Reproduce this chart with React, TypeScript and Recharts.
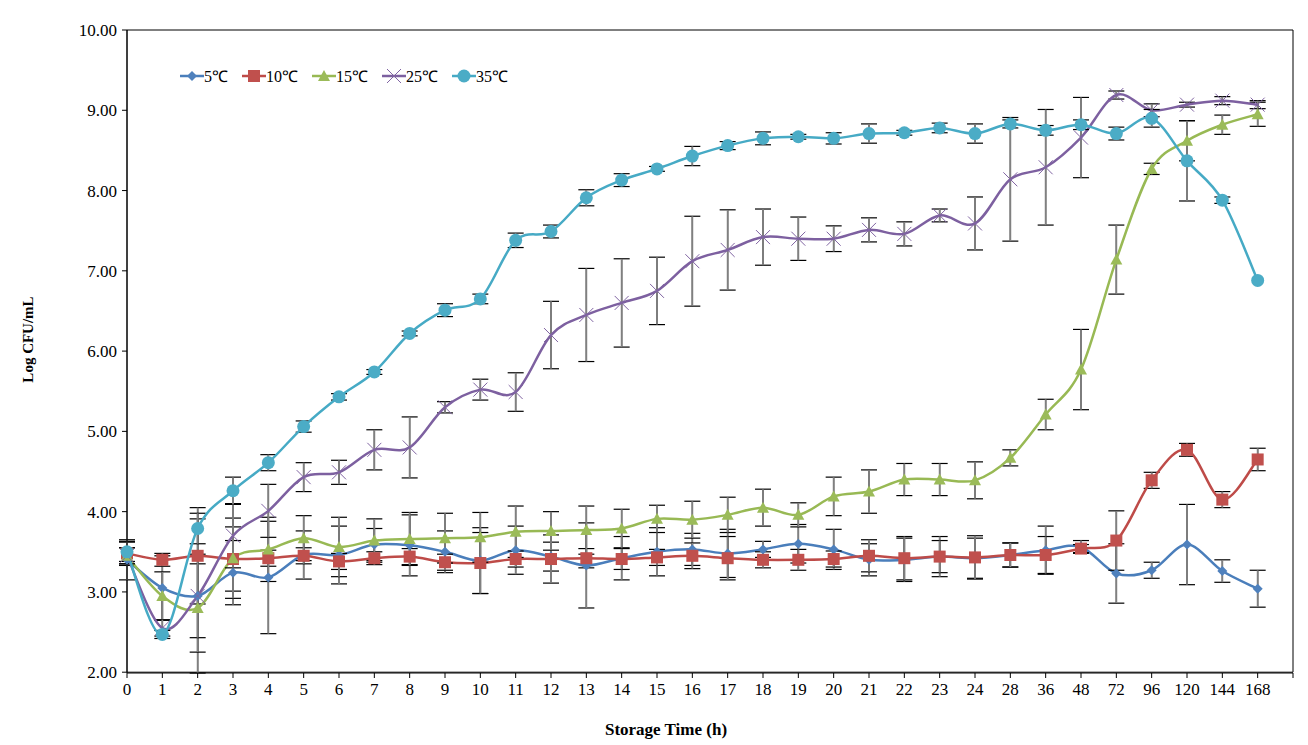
import { LineChart, Line, XAxis, YAxis, ErrorBar, ReferenceArea } from 'recharts';

const hours = ['0', '1', '2', '3', '4', '5', '6', '7', '8', '9', '10', '11', '12', '13', '14', '15', '16', '17', '18', '19', '20', '21', '22', '23', '24', '28', '36', '48', '72', '96', '120', '144', '168'];

const t5 = [3.40, 3.05, 2.95, 3.24, 3.18, 3.46, 3.46, 3.59, 3.58, 3.50, 3.39, 3.52, 3.44, 3.33, 3.42, 3.50, 3.53, 3.48, 3.53, 3.60, 3.53, 3.40, 3.40, 3.44, 3.42, 3.46, 3.52, 3.56, 3.23, 3.27, 3.59, 3.26, 3.04];
const e5 = [0.25, 0.40, 0.96, 0.40, 0.70, 0.30, 0.36, 0.20, 0.38, 0.26, 0.41, 0.30, 0.18, 0.53, 0.27, 0.30, 0.20, 0.30, 0.10, 0.24, 0.25, 0.20, 0.27, 0.25, 0.25, 0.15, 0.30, 0.08, 0.37, 0.10, 0.50, 0.14, 0.23];

const t10 = [3.48, 3.40, 3.45, 3.41, 3.42, 3.45, 3.38, 3.42, 3.44, 3.37, 3.36, 3.41, 3.41, 3.42, 3.41, 3.43, 3.45, 3.42, 3.40, 3.40, 3.41, 3.45, 3.42, 3.44, 3.43, 3.46, 3.46, 3.54, 3.64, 4.39, 4.77, 4.15, 4.65];
const e10 = [0.15, 0.08, 0.60, 0.40, 0.10, 0.10, 0.10, 0.08, 0.10, 0.10, 0.38, 0.10, 0.30, 0.12, 0.13, 0.10, 0.16, 0.27, 0.10, 0.13, 0.10, 0.20, 0.27, 0.20, 0.27, 0.15, 0.23, 0.05, 0.37, 0.10, 0.08, 0.10, 0.14];

const t15 = [3.45, 2.95, 2.80, 3.42, 3.53, 3.67, 3.56, 3.64, 3.66, 3.67, 3.68, 3.75, 3.76, 3.77, 3.79, 3.91, 3.90, 3.96, 4.05, 3.96, 4.19, 4.25, 4.40, 4.40, 4.39, 4.67, 5.21, 5.77, 7.14, 8.27, 8.62, 8.82, 8.95];
const e15 = [0.10, 0.30, 0.55, 0.50, 0.40, 0.28, 0.37, 0.27, 0.33, 0.31, 0.31, 0.32, 0.24, 0.30, 0.24, 0.17, 0.23, 0.22, 0.23, 0.15, 0.24, 0.27, 0.20, 0.20, 0.23, 0.10, 0.19, 0.50, 0.43, 0.07, 0.25, 0.12, 0.15];

const t25 = [3.45, 2.55, 2.95, 3.70, 4.01, 4.43, 4.49, 4.77, 4.80, 5.30, 5.52, 5.49, 6.20, 6.45, 6.60, 6.75, 7.12, 7.26, 7.42, 7.40, 7.40, 7.51, 7.46, 7.69, 7.59, 8.14, 8.29, 8.66, 9.19, 9.00, 9.07, 9.12, 9.07];
const e25 = [0.10, 0.10, 0.52, 0.40, 0.33, 0.18, 0.15, 0.25, 0.38, 0.07, 0.13, 0.24, 0.42, 0.58, 0.55, 0.42, 0.56, 0.50, 0.35, 0.27, 0.16, 0.15, 0.15, 0.08, 0.33, 0.77, 0.72, 0.50, 0.05, 0.08, 0.03, 0.05, 0.05];

const t35 = [3.50, 2.47, 3.79, 4.26, 4.61, 5.06, 5.43, 5.74, 6.22, 6.51, 6.65, 7.38, 7.49, 7.91, 8.13, 8.27, 8.43, 8.56, 8.65, 8.67, 8.65, 8.71, 8.72, 8.78, 8.71, 8.83, 8.75, 8.82, 8.71, 8.90, 8.37, 7.88, 6.88];
const e35 = [0.12, 0.05, 0.19, 0.17, 0.10, 0.07, 0.04, 0.03, 0.03, 0.08, 0.06, 0.09, 0.08, 0.10, 0.08, 0.03, 0.12, 0.05, 0.08, 0.03, 0.07, 0.12, 0.03, 0.06, 0.12, 0.05, 0.06, 0.06, 0.08, 0.11, 0.50, 0.04, 0];

const yTicks = [2, 3, 4, 5, 6, 7, 8, 9, 10];
const xTicks = hours.map((_, i) => i).concat([hours.length]);

const font = '"Liberation Serif", "Times New Roman", serif';

const data = hours.map((h, i) => ({
  i, h,
  t5: t5[i], e5: e5[i],
  t10: t10[i], e10: e10[i],
  t15: t15[i], e15: e15[i],
  t25: t25[i], e25: e25[i],
  t35: t35[i], e35: e35[i],
}));

// Excel style smoothing (Catmull-Rom through the points)
const excelSmooth = (context: any) => {
  let pts: number[][] = [];
  return {
    areaStart() {},
    areaEnd() {},
    lineStart() { pts = []; },
    point(x: number, y: number) { pts.push([x, y]); },
    lineEnd() {
      if (!pts.length) return;
      context.moveTo(pts[0][0], pts[0][1]);
      for (let k = 0; k < pts.length - 1; k++) {
        const p0 = pts[k - 1] || pts[k];
        const p1 = pts[k];
        const p2 = pts[k + 1];
        const p3 = pts[k + 2] || p2;
        context.bezierCurveTo(
          p1[0] + (p2[0] - p0[0]) / 6, p1[1] + (p2[1] - p0[1]) / 6,
          p2[0] - (p3[0] - p1[0]) / 6, p2[1] - (p3[1] - p1[1]) / 6,
          p2[0], p2[1]
        );
      }
    },
  };
};

const Marker = ({ kind, cx, cy, color }: { kind: string; cx: number; cy: number; color: string }) => {
  if (kind === 'diamond') {
    const r = 5;
    return <polygon points={`${cx},${cy - r} ${cx + r},${cy} ${cx},${cy + r} ${cx - r},${cy}`} fill={color} />;
  }
  if (kind === 'square') {
    return <rect x={cx - 6} y={cy - 6} width={12} height={12} fill={color} />;
  }
  if (kind === 'triangle') {
    return <polygon points={`${cx},${cy - 6} ${cx + 6},${cy + 5} ${cx - 6},${cy + 5}`} fill={color} />;
  }
  if (kind === 'x') {
    const r = 7;
    return (
      <g stroke={color} strokeWidth={1}>
        <line x1={cx - r} y1={cy - r} x2={cx + r} y2={cy + r} />
        <line x1={cx - r} y1={cy + r} x2={cx + r} y2={cy - r} />
      </g>
    );
  }
  return <circle cx={cx} cy={cy} r={6.5} fill={color} />;
};

const series = [
  { key: 't5', err: 'e5', name: '5℃', line: '#4A7EBB', mark: '#4F81BD', kind: 'diamond' },
  { key: 't10', err: 'e10', name: '10℃', line: '#BE4B48', mark: '#C0504D', kind: 'square' },
  { key: 't15', err: 'e15', name: '15℃', line: '#98B954', mark: '#9BBB59', kind: 'triangle' },
  { key: 't25', err: 'e25', name: '25℃', line: '#7D60A0', mark: '#8064A2', kind: 'x' },
  { key: 't35', err: 'e35', name: '35℃', line: '#46AAC5', mark: '#4BACC6', kind: 'circle' },
];

export default function App() {
  return (
    <div style={{ position: 'relative', width: 1300, height: 737, fontFamily: font }}>
      <LineChart width={1300} height={737} data={data} margin={{ top: 22, right: 15, bottom: 10, left: 0 }}>
        <XAxis
          type="number"
          dataKey="i"
          domain={[0, hours.length]}
          ticks={xTicks}
          interval={0}
          tickFormatter={(v: number) => hours[v] ?? ''}
          axisLine={{ stroke: '#000' }}
          tickLine={{ stroke: '#000' }}
          tickSize={5}
          tickMargin={5}
          height={62}
          tick={{ fill: '#000', fontSize: 17, fontFamily: font }}
          label={{ value: 'Storage Time (h)', position: 'insideBottom', offset: 0, dx: -44, fill: '#000', fontSize: 17, fontWeight: 700, fontFamily: font }}
        />
        <YAxis
          type="number"
          domain={[2, 10]}
          ticks={yTicks}
          interval={0}
          tickFormatter={(v: number) => v.toFixed(2)}
          axisLine={{ stroke: '#000' }}
          tickLine={{ stroke: '#000' }}
          tickSize={5}
          tickMargin={5}
          width={119}
          tick={{ fill: '#000', fontSize: 17, fontFamily: font }}
          label={{ value: 'Log CFU/mL', angle: -90, position: 'insideLeft', offset: 20, dy: -12, fill: '#000', fontSize: 15, fontWeight: 700, fontFamily: font, style: { textAnchor: 'middle' } }}
        />
        <ReferenceArea x1={0} x2={hours.length} y1={2} y2={10} fill="none" stroke="#000" strokeWidth={1} />

        {series.map(s => (
          <Line
            key={s.key}
            dataKey={s.key}
            name={s.name}
            type={excelSmooth as any}
            stroke={s.line}
            strokeWidth={2.5}
            isAnimationActive={false}
            activeDot={false}
            dot={(p: any) => <Marker key={`${s.key}-${p.index}`} kind={s.kind} cx={p.cx} cy={p.cy} color={s.mark} />}
          >
            <ErrorBar dataKey={s.err} direction="y" width={8} stroke="#000" strokeWidth={1.2} />
            <ErrorBar dataKey={s.err} direction="y" width={0} stroke="#808080" strokeWidth={1.8} />
          </Line>
        ))}
      </LineChart>

      {/* Legend */}
      <div style={{ position: 'absolute', top: 57, left: 172, display: 'flex', alignItems: 'center', gap: 14, fontSize: 16, color: '#000' }}>
        {series.map(s => (
          <div key={s.key} style={{ display: 'flex', alignItems: 'center' }}>
            <svg width={24} height={20}>
              <line x1={0} y1={10} x2={24} y2={10} stroke={s.line} strokeWidth={2.5} />
              <Marker kind={s.kind} cx={12} cy={10} color={s.mark} />
            </svg>
            <span>{s.name}</span>
          </div>
        ))}
      </div>
    </div>
  );
}
